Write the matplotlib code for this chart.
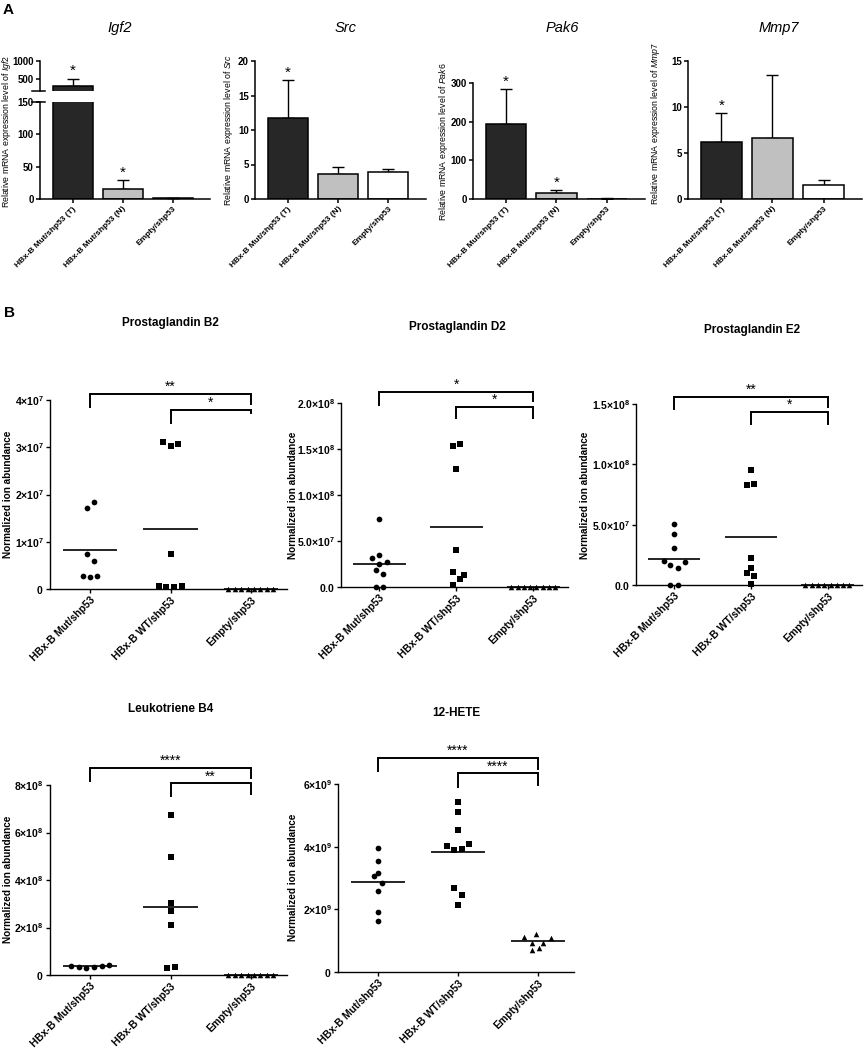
import numpy as np
import matplotlib
matplotlib.use("Agg")
import matplotlib.pyplot as plt

plt.rcParams['font.family'] = ['Liberation Sans', 'DejaVu Sans']
plt.rcParams['mathtext.fontset'] = 'custom'
plt.rcParams['mathtext.rm'] = 'Liberation Sans'
plt.rcParams['mathtext.it'] = 'Liberation Sans:italic'
plt.rcParams['mathtext.bf'] = 'Liberation Sans:bold'

W, H = 867, 1050

# ---------------- panel A: qPCR bars ----------------
bar_groups = ["HBx-B Mut/shp53 (T)", "HBx-B Mut/shp53 (N)", "Empty/shp53"]
bar_colors = ["#272727", "#c0c0c0", "white"]

igf2_mean = [280, 15, 1.2]
igf2_sem = [220, 14, 0.4]
igf2_stars = ["*", "*", ""]

src_mean = [11.7, 3.6, 3.9]
src_sem = [5.5, 1.1, 0.5]
src_stars = ["*", "", ""]

pak6_mean = [195, 15, 1.0]
pak6_sem = [90, 7, 0.4]
pak6_stars = ["*", "*", ""]

mmp7_mean = [6.2, 6.6, 1.5]
mmp7_sem = [3.1, 6.9, 0.6]
mmp7_stars = ["*", "", ""]

# ---------------- panel B: lipid scatter ----------------
scatter_groups = ["HBx-B Mut/shp53", "HBx-B WT/shp53", "Empty/shp53"]

pgb2_mut = [1.71e7, 1.84e7, 0.75e7, 0.59e7, 0.27e7, 0.25e7, 0.27e7]
pgb2_mut_dx = [-0.04, 0.05, -0.04, 0.05, -0.09, 0.0, 0.09]
pgb2_wt = [3.12e7, 3.03e7, 3.06e7, 0.74e7, 0.06e7, 0.04e7, 0.05e7, 0.07e7]
pgb2_wt_dx = [-0.09, 0.0, 0.09, 0.0, -0.14, -0.05, 0.04, 0.14]
pgb2_empty = [0, 0, 0, 0, 0, 0, 0, 0]
pgb2_empty_dx = [-0.29, -0.2, -0.12, -0.04, 0.04, 0.12, 0.2, 0.28]
pgb2_centre = [0.82e7, 1.27e7, 0]
pgb2_yticks = [0, 1e7, 2e7, 3e7, 4e7]
pgb2_ylabels = [r"$\mathbf{0}$", r"$\mathbf{1{\times}10^{7}}$",
                r"$\mathbf{2{\times}10^{7}}$", r"$\mathbf{3{\times}10^{7}}$",
                r"$\mathbf{4{\times}10^{7}}$"]
pgb2_brackets = [(0, 2, 4.13e7, 3.85e7, 3.92e7, "**"),
                 (1, 2, 3.79e7, 3.52e7, 3.72e7, "*")]

pgd2_mut = [0.74e8, 0.315e8, 0.35e8, 0.275e8, 0.25e8, 0.18e8, 0.14e8, 0, 0]
pgd2_mut_dx = [0.0, -0.095, 0.0, 0.095, 0.0, -0.05, 0.05, -0.05, 0.05]
pgd2_wt = [1.53e8, 1.55e8, 1.28e8, 0.40e8, 0.16e8, 0.13e8, 0.09e8, 0.02e8]
pgd2_wt_dx = [-0.05, 0.05, 0.0, 0.0, -0.05, 0.1, 0.05, -0.05]
pgd2_empty = [0, 0, 0, 0, 0, 0, 0, 0]
pgd2_empty_dx = [-0.29, -0.2, -0.12, -0.04, 0.04, 0.12, 0.2, 0.28]
pgd2_centre = [0.25e8, 0.65e8, 0]
pgd2_yticks = [0, 5e7, 1e8, 1.5e8, 2e8]
pgd2_ylabels = [r"$\mathbf{0.0}$", r"$\mathbf{5.0{\times}10^{7}}$",
                r"$\mathbf{1.0{\times}10^{8}}$", r"$\mathbf{1.5{\times}10^{8}}$",
                r"$\mathbf{2.0{\times}10^{8}}$"]
pgd2_brackets = [(0, 2, 2.12e8, 1.98e8, 2.02e8, "*"),
                 (1, 2, 1.96e8, 1.84e8, 1.84e8, "*")]

pge2_mut = [0.505e8, 0.42e8, 0.31e8, 0.196e8, 0.163e8, 0.143e8, 0.193e8, 0, 0]
pge2_mut_dx = [0.0, 0.0, 0.0, -0.14, -0.05, 0.045, 0.14, -0.05, 0.045]
pge2_wt = [0.954e8, 0.827e8, 0.838e8, 0.223e8, 0.14e8, 0.10e8, 0.077e8, 0.005e8]
pge2_wt_dx = [0.0, -0.05, 0.045, 0.0, 0.0, -0.05, 0.045, 0.0]
pge2_empty = [0, 0, 0, 0, 0, 0, 0, 0]
pge2_empty_dx = [-0.29, -0.2, -0.12, -0.04, 0.04, 0.12, 0.2, 0.28]
pge2_centre = [0.215e8, 0.397e8, 0]
pge2_yticks = [0, 5e7, 1e8, 1.5e8]
pge2_ylabels = [r"$\mathbf{0.0}$", r"$\mathbf{5.0{\times}10^{7}}$",
                r"$\mathbf{1.0{\times}10^{8}}$", r"$\mathbf{1.5{\times}10^{8}}$"]
pge2_brackets = [(0, 2, 1.56e8, 1.456e8, 1.478e8, "**"),
                 (1, 2, 1.436e8, 1.334e8, 1.334e8, "*")]

ltb4_mut = [0.39e8, 0.35e8, 0.28e8, 0.35e8, 0.38e8, 0.41e8]
ltb4_mut_dx = [-0.24, -0.14, -0.05, 0.05, 0.15, 0.24]
ltb4_wt = [6.74e8, 4.98e8, 3.05e8, 2.69e8, 2.1e8, 0.29e8, 0.32e8]
ltb4_wt_dx = [0.0, 0.0, 0.0, 0.0, 0.0, -0.045, 0.05]
ltb4_empty = [0, 0, 0, 0, 0, 0, 0, 0]
ltb4_empty_dx = [-0.29, -0.2, -0.12, -0.04, 0.04, 0.12, 0.2, 0.28]
ltb4_centre = [0.365e8, 2.88e8, 0]
ltb4_yticks = [0, 2e8, 4e8, 6e8, 8e8]
ltb4_ylabels = [r"$\mathbf{0}$", r"$\mathbf{2{\times}10^{8}}$",
                r"$\mathbf{4{\times}10^{8}}$", r"$\mathbf{6{\times}10^{8}}$",
                r"$\mathbf{8{\times}10^{8}}$"]
ltb4_brackets = [(0, 2, 8.73e8, 8.18e8, 8.31e8, "****"),
                 (1, 2, 8.07e8, 7.54e8, 7.62e8, "**")]

hete_mut = [3.97e9, 3.53e9, 3.07e9, 3.17e9, 2.85e9, 2.59e9, 1.9e9, 1.63e9]
hete_mut_dx = [0.0, 0.0, -0.05, 0.0, 0.045, 0.0, 0.0, 0.0]
hete_wt = [5.41e9, 5.11e9, 4.53e9, 4.02e9, 3.88e9, 3.91e9, 4.1e9, 2.67e9, 2.45e9, 2.15e9]
hete_wt_dx = [0.0, 0.0, 0.0, -0.14, -0.05, 0.05, 0.14, -0.05, 0.05, 0.0]
hete_empty = [1.12e9, 1.2e9, 1.09e9, 0.94e9, 0.94e9, 0.78e9, 0.71e9]
hete_empty_dx = [-0.17, -0.025, 0.16, -0.076, 0.068, 0.017, -0.076]
hete_centre = [2.86e9, 3.82e9, 0.98e9]
hete_yticks = [0, 2e9, 4e9, 6e9]
hete_ylabels = [r"$\mathbf{0}$", r"$\mathbf{2{\times}10^{9}}$",
                r"$\mathbf{4{\times}10^{9}}$", r"$\mathbf{6{\times}10^{9}}$"]
hete_brackets = [(0, 2, 6.84e9, 6.42e9, 6.49e9, "****"),
                 (1, 2, 6.34e9, 5.9e9, 5.97e9, "****")]


def px_axes(fig, left, top, right, bottom):
    return fig.add_axes([left / W, 1 - bottom / H,
                         (right - left) / W, (bottom - top) / H])


def style_axes(ax, lw=1.1):
    for s in ['top', 'right']:
        ax.spines[s].set_visible(False)
    for s in ['left', 'bottom']:
        ax.spines[s].set_linewidth(lw)
    ax.tick_params(direction='out', length=3, width=lw, pad=1.5)


def bold_yticks(ax, size):
    for lab in ax.get_yticklabels():
        lab.set_fontsize(size)
        lab.set_fontweight('bold')


def bar_chart(ax, means, sems, stars, ylim, yticks, star_ax=None):
    x = np.arange(len(means))
    ax.bar(x, means, width=0.8, color=bar_colors, edgecolor='black',
           linewidth=1.1, zorder=2)
    ax.errorbar(x, means, yerr=[np.zeros(len(sems)), sems], fmt='none',
                ecolor='black', elinewidth=1.0, capsize=4, capthick=1.0,
                zorder=1)
    ax.set_xlim(-0.65, 2.75)
    ax.set_ylim(*ylim)
    ax.set_yticks(yticks)
    style_axes(ax)
    ax.set_xticks(x)
    ax.set_xticklabels(bar_groups, rotation=45, ha='right', va='top',
                       rotation_mode='anchor', fontsize=6, fontweight='bold')
    bold_yticks(ax, 7)
    for xi, m, s, st in zip(x, means, sems, stars):
        if not st:
            continue
        target = ax
        if star_ax is not None and m + s > ylim[1]:
            target = star_ax
        target.annotate(st, (xi, m + s), xytext=(0, 2.5),
                        textcoords='offset points', ha='center',
                        va='baseline', fontsize=11, annotation_clip=False)


def scatter_chart(ax, groups, centres, yticks, ylabels, brackets):
    markers = ['o', 's', '^']
    sizes = [17, 17, 16]
    for gi, (vals, dx) in enumerate(groups):
        xs = gi + np.array(dx)
        ax.scatter(xs, vals, marker=markers[gi], s=sizes[gi], color='black',
                   linewidths=0, clip_on=False, zorder=3)
        ax.hlines(centres[gi], gi - 0.34, gi + 0.34, color='black',
                  linewidth=1.2, zorder=2)
    ax.set_xlim(-0.5, 2.45)
    ax.set_ylim(0, yticks[-1])
    ax.set_yticks(yticks)
    ax.set_yticklabels(ylabels, fontsize=7.5)
    ax.set_xticks(range(3))
    ax.set_xticklabels(scatter_groups, rotation=45, ha='right', va='top',
                       rotation_mode='anchor', fontsize=7.5,
                       fontweight='bold')
    style_axes(ax, lw=1.0)
    for x0, x1, yt, yl, yr, txt in brackets:
        ax.plot([x0, x0, x1, x1], [yl, yt, yt, yr], color='black',
                linewidth=1.4, clip_on=False, solid_joinstyle='miter')
        ax.annotate(txt, ((x0 + x1) / 2, yt), xytext=(0, 2),
                    textcoords='offset points', ha='center', va='baseline',
                    fontsize=10, annotation_clip=False)


fig = plt.figure(figsize=(W / 100, H / 100), dpi=100)

# panel letters
fig.text(3 / W, 1 - 3 / H, "A", fontsize=11, fontweight='bold', va='top')
fig.text(4 / W, 1 - 306 / H, "B", fontsize=11, fontweight='bold', va='top')

# ---- Igf2 with broken axis ----
ax_lo = px_axes(fig, 40, 102, 210, 199)
ax_hi = px_axes(fig, 40, 61, 210, 91)
bar_chart(ax_lo, igf2_mean, igf2_sem, igf2_stars, (0, 150), [0, 50, 100, 150],
          star_ax=ax_hi)
x = np.arange(3)
ax_hi.bar(x, igf2_mean, width=0.8, color=bar_colors, edgecolor='black',
          linewidth=1.1, zorder=2)
ax_hi.errorbar(x, igf2_mean, yerr=[np.zeros(3), igf2_sem], fmt='none',
               ecolor='black', elinewidth=1.0, capsize=4, capthick=1.0,
               zorder=1)
ax_hi.set_xlim(-0.65, 2.75)
ax_hi.set_ylim(150, 1000)
ax_hi.set_yticks([500, 1000])
style_axes(ax_hi)
ax_hi.spines['bottom'].set_visible(False)
ax_hi.set_xticks([])
bold_yticks(ax_hi, 7)
# break marks
ax_hi.plot([-0.05, 0.03], [0, 0], transform=ax_hi.transAxes, color='black',
           linewidth=1.1, clip_on=False)
ax_lo.plot([-0.05, 0.03], [1, 1], transform=ax_lo.transAxes, color='black',
           linewidth=1.1, clip_on=False)

ax_src = px_axes(fig, 255, 61, 426, 199)
bar_chart(ax_src, src_mean, src_sem, src_stars, (0, 20), [0, 5, 10, 15, 20])

ax_pak = px_axes(fig, 473, 83, 645, 199)
bar_chart(ax_pak, pak6_mean, pak6_sem, pak6_stars, (0, 300), [0, 100, 200, 300])

ax_mmp = px_axes(fig, 688, 61, 862, 199)
bar_chart(ax_mmp, mmp7_mean, mmp7_sem, mmp7_stars, (0, 15), [0, 5, 10, 15])

genes = ["Igf2", "Src", "Pak6", "Mmp7"]
gene_title_pos = [(120, 28), (346, 28), (562, 28), (779, 28)]
gene_ylabel_pos = [(7, 131), (229, 130), (443, 142), (656, 124)]
for g, (tx, ty), (lx, ly) in zip(genes, gene_title_pos, gene_ylabel_pos):
    fig.text(tx / W, 1 - ty / H, g, fontsize=10.5, fontstyle='italic',
             ha='center', va='center')
    fig.text(lx / W, 1 - ly / H,
             r"Relative mRNA expression level of $\it{" + g + "}$",
             fontsize=6.3, rotation=90, ha='center', va='center')

# ---- panel B ----
ax1 = px_axes(fig, 50, 400, 287, 589)
scatter_chart(ax1, [(pgb2_mut, pgb2_mut_dx), (pgb2_wt, pgb2_wt_dx),
                    (pgb2_empty, pgb2_empty_dx)],
              pgb2_centre, pgb2_yticks, pgb2_ylabels, pgb2_brackets)
ax2 = px_axes(fig, 341, 403, 568, 587)
scatter_chart(ax2, [(pgd2_mut, pgd2_mut_dx), (pgd2_wt, pgd2_wt_dx),
                    (pgd2_empty, pgd2_empty_dx)],
              pgd2_centre, pgd2_yticks, pgd2_ylabels, pgd2_brackets)
ax3 = px_axes(fig, 636, 404, 862, 585)
scatter_chart(ax3, [(pge2_mut, pge2_mut_dx), (pge2_wt, pge2_wt_dx),
                    (pge2_empty, pge2_empty_dx)],
              pge2_centre, pge2_yticks, pge2_ylabels, pge2_brackets)
ax4 = px_axes(fig, 50, 785, 287, 975)
scatter_chart(ax4, [(ltb4_mut, ltb4_mut_dx), (ltb4_wt, ltb4_wt_dx),
                    (ltb4_empty, ltb4_empty_dx)],
              ltb4_centre, ltb4_yticks, ltb4_ylabels, ltb4_brackets)
ax5 = px_axes(fig, 338, 784, 574, 972)
scatter_chart(ax5, [(hete_mut, hete_mut_dx), (hete_wt, hete_wt_dx),
                    (hete_empty, hete_empty_dx)],
              hete_centre, hete_yticks, hete_ylabels, hete_brackets)

lipids = ["Prostaglandin B2", "Prostaglandin D2", "Prostaglandin E2",
          "Leukotriene B4", "12-HETE"]
lipid_title_pos = [(170, 323), (457, 327), (752, 330), (171, 709), (456, 713)]
lipid_ylabel_pos = [(8, 494), (293, 495), (585, 495), (8, 879), (293, 877)]
for name, (tx, ty), (lx, ly) in zip(lipids, lipid_title_pos, lipid_ylabel_pos):
    fig.text(tx / W, 1 - ty / H, name, fontsize=8.5, fontweight='bold',
             ha='center', va='center')
    fig.text(lx / W, 1 - ly / H, "Normalized ion abundance", fontsize=7.2,
             fontweight='bold', rotation=90, ha='center', va='center')

fig.savefig("out.png", dpi=100)
